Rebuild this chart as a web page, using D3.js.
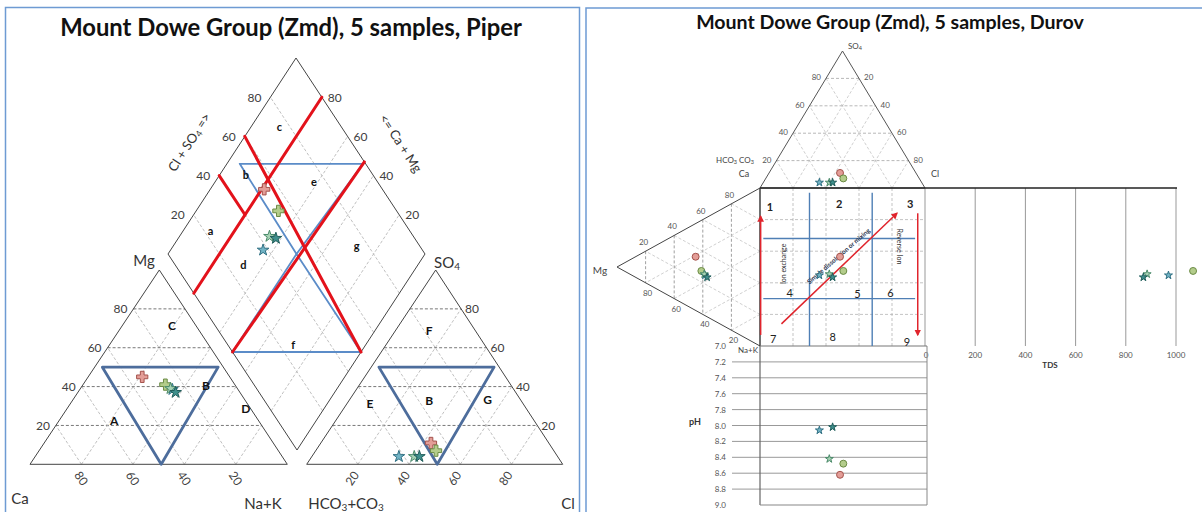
<!DOCTYPE html>
<html><head><meta charset="utf-8">
<script src="https://cdn.jsdelivr.net/npm/d3@7"></script>
<style>body{margin:0;background:#fff}svg{display:block}text{font-family:Lato,'Liberation Sans',sans-serif}</style>
</head><body>
<svg id="c" width="1202" height="512"></svg>
<script>
// ---------------- DATA ----------------
const sampleIds = ["S1","S2","S3","S4","S5"];
const caPct   = [34, 27, 25.5, 26, 25];
const mgPct   = [45, 41, 38.5, 39, 37];
const naPct   = [21, 32, 36, 35, 38];
const hco3Pct = [46, 46, 62, 56, 54];
const so4Pct  = [11, 7, 4, 4, 4];
const clPct   = [43, 47, 34, 40, 42];
const tdsVals = [1160, 1068, 970, 885, 870];
const phVals  = [8.62, 8.48, 8.06, 8.42, 8.02];
const gridTicks = [20, 40, 60, 80];
const tdsTicks = [0, 200, 400, 600, 800, 1000];
const phTicks = [7.0, 7.2, 7.4, 7.6, 7.8, 8.0, 8.2, 8.4, 8.6, 8.8, 9.0];
// Piper region boundaries (ternary %)
const cationBlue = [[3,50],[48,50],[51,0]];            // [Na, Mg]
const anionBlue  = [[3,50],[48,50],[51,0]];            // [Cl, SO4]
const diamondBlueTop = [[95,51],[47,99],[50,50]];      // [Ca+Mg, Cl+SO4]
const diamondBlueBot = [[50,50],[50,0],[0,50]];
const redLines = [[[80,0],[80,100]],[[50,0],[47,100]],[[100,60],[0,50]],[[100,40],[80,40]]];
const diamondRegions = [["a",89.5,22.7],["b",90,50.8],["c",89.2,76.1],["d",67.9,26.5],["e",61.6,75.3],["f",28.3,25.6],["g",28.6,75.5]];
const cationRegions = [["A",21.5,22.3],["B",47.9,40.8],["C",19.4,71.2],["D",69.6,28.5]]; // [Na,Mg]
const anionRegions  = [["E",8.9,31.4],["F",13,69.1],["B",31.4,32.7],["G",54,33.1]];     // [Cl,SO4]
// Durov fields (% of square)
const durovBlueX = [30, 68];
const durovBlueY = [32, 70];
const durovFields = [["1",6,12],["2",48,10],["3",91,10],["4",18,66],["5",59,67],["6",79,66],["7",8,95],["8",44,94],["9",89,97]];
const durovArrows = [[[0.4,93],[0.4,18]],[[13,86],[83,16]],[[95.6,16],[95.6,93]]];

const fills   = ["#e39d97","#b3cc8b","#72b4c6","#a6d2b4","#3f8f8c"];
const strokes = ["#a4524c","#6b8b45","#2f6f82","#4b8a6a","#1f5c5a"];
const piperShape = [d3.symbolCross,d3.symbolCross,d3.symbolStar,d3.symbolStar,d3.symbolStar];
const durovShape = [d3.symbolCircle,d3.symbolCircle,d3.symbolStar,d3.symbolStar,d3.symbolStar];

// ---------------- HELPERS ----------------
const svg = d3.select("#c");
svg.append("rect").attr("width",1202).attr("height",512).attr("fill","#fff");
const pct = d3.scaleLinear().domain([0,100]).range([0,1]);
const sub = (p,q)=>[p[0]-q[0],p[1]-q[1]];
function affine(o,u,v){return (a,b)=>[o[0]+pct(a)*u[0]+pct(b)*v[0], o[1]+pct(a)*u[1]+pct(b)*v[1]];}
function seg(g,p,q,col,w,dash){const l=g.append("line").attr("x1",p[0]).attr("y1",p[1]).attr("x2",q[0]).attr("y2",q[1]).attr("stroke",col).attr("stroke-width",w);if(dash)l.attr("stroke-dasharray",dash);return l;}
function txt(g,x,y,s,size,opts={}){const t=g.append("text").attr("x",x).attr("y",y).attr("font-size",size).attr("fill",opts.fill||"#333").attr("text-anchor",opts.anchor||"middle").attr("dominant-baseline","central");if(opts.weight)t.attr("font-weight",opts.weight);if(opts.rot!==undefined)t.attr("transform",`rotate(${opts.rot},${x},${y})`);t.text(s);return t;}
function poly(g,pts,col,w){g.append("path").attr("d",d3.line()(pts)+"Z").attr("fill","none").attr("stroke",col).attr("stroke-width",w).attr("stroke-linejoin","round");}
function triGrid(g,f,hc,dc){gridTicks.forEach(k=>{seg(g,f(0,k),f(100-k,k),hc,0.8,"3,2");seg(g,f(k,0),f(k,100-k),dc,0.8,"3,2");seg(g,f(100-k,0),f(0,100-k),dc,0.8,"3,2");});}
function mark(g,p,shape,size,i){g.append("path").attr("d",d3.symbol().type(shape).size(size)()).attr("transform",`translate(${p[0]},${p[1]})`).attr("fill",fills[i]).attr("stroke",strokes[i]).attr("stroke-width",1).attr("stroke-linejoin","round");}
function fitText(t,w){const l=t.node().getComputedTextLength();t.attr("font-size",parseFloat(t.attr("font-size"))*w/l);}

// panel borders
svg.append("rect").attr("x",5.5).attr("y",7.5).attr("width",574).attr("height",520).attr("fill","none").attr("stroke","#6e9bd3").attr("stroke-width",1.5);
svg.append("rect").attr("x",586).attr("y",8).attr("width",640).attr("height",520).attr("fill","none").attr("stroke","#6e9bd3").attr("stroke-width",1.5);

// ---------------- PIPER ----------------
const P = svg.append("g");
fitText(txt(P,291,26,"Mount Dowe Group (Zmd), 5 samples, Piper",22,{fill:"#111",weight:"bold"}),462);

const C_L=[30,464.3], C_R=[287.3,464.3], C_T=[159.3,270];
const A_L=[306.7,464.3], A_R=[562.7,464.3], A_T=[435.7,270];
const D_B=[297,450], D_L=[168,254], D_R=[425,254];
const cat = affine(C_L, sub(C_R,C_L), sub(C_T,C_L));   // (Na, Mg)
const an  = affine(A_L, sub(A_R,A_L), sub(A_T,A_L));   // (Cl, SO4)
const dia = affine(D_B, sub(D_L,D_B), sub(D_R,D_B));   // (Ca+Mg, Cl+SO4)

triGrid(P,cat,"#555","#b0b0b0");
triGrid(P,an,"#555","#b0b0b0");
gridTicks.forEach(k=>{seg(P,dia(k,0),dia(k,100),"#b0b0b0",0.8,"3,2");seg(P,dia(0,k),dia(100,k),"#b0b0b0",0.8,"3,2");});
poly(P,[cat(0,0),cat(100,0),cat(0,100)],"#444",1);
poly(P,[an(0,0),an(100,0),an(0,100)],"#444",1);
poly(P,[dia(0,0),dia(100,0),dia(100,100),dia(0,100)],"#444",1);

// tick labels
gridTicks.forEach(k=>{
  let p=cat(0,k); txt(P,p[0]-6,p[1],k,12,{anchor:"end",fill:"#404040"});
  p=cat(k,0); txt(P,p[0],p[1]+14,100-k,12,{fill:"#404040",rot:56});
  p=an(100-k,k); txt(P,p[0]+4,p[1],k,12,{anchor:"start",fill:"#404040"});
  p=an(k,0); txt(P,p[0]-6,p[1]+14,k,12,{fill:"#404040",rot:-56});
  p=dia(100,k); txt(P,p[0]-9,p[1],k,12,{anchor:"end",fill:"#404040"});
  p=dia(k,100); txt(P,p[0]+6,p[1],k,12,{anchor:"start",fill:"#404040"});
});
// axis names
txt(P,144,260,"Mg",15,{fill:"#333"});
const so4t = txt(P,447,262,"SO",15,{fill:"#333"}); so4t.append("tspan").attr("font-size",10).attr("dy",4).text("4");
txt(P,20,498,"Ca",15,{fill:"#333"});
txt(P,263,503,"Na+K",15,{fill:"#333"});
const hc = txt(P,346,503,"HCO",15,{fill:"#333"}); hc.append("tspan").attr("font-size",10).attr("dy",4).text("3"); hc.append("tspan").attr("dy",-4).text("+CO"); hc.append("tspan").attr("font-size",10).attr("dy",4).text("3");
txt(P,568,503,"Cl",15,{fill:"#333"});
const lt = txt(P,189,142,"Cl + SO",13,{fill:"#333",rot:-57}); lt.append("tspan").attr("font-size",9).attr("dy",3).text("4"); lt.append("tspan").attr("dy",-3).text(" =>");
txt(P,401,143,"<= Ca + Mg",13,{fill:"#333",rot:57});

// region lines
poly(P,cationBlue.map(d=>cat(d[0],d[1])),"#4d6d9c",2.8);
poly(P,anionBlue.map(d=>an(d[0],d[1])),"#4d6d9c",2.8);
poly(P,diamondBlueTop.map(d=>dia(d[0],d[1])),"#5b8cc8",1.8);
poly(P,diamondBlueBot.map(d=>dia(d[0],d[1])),"#5b8cc8",1.8);
redLines.forEach(l=>seg(P,dia(l[0][0],l[0][1]),dia(l[1][0],l[1][1]),"#e3121b",3).attr("stroke-linecap","round"));
diamondRegions.forEach(r=>{const p=dia(r[1],r[2]);txt(P,p[0],p[1],r[0],11,{fill:"#111",weight:"bold"});});
cationRegions.forEach(r=>{const p=cat(r[1],r[2]);txt(P,p[0],p[1],r[0],12,{fill:"#111",weight:"bold"});});
anionRegions.forEach(r=>{const p=an(r[1],r[2]);txt(P,p[0],p[1],r[0],12,{fill:"#111",weight:"bold"});});

// samples
sampleIds.forEach((id,i)=>{
  const sz = piperShape[i]===d3.symbolStar?42:70;
  mark(P,cat(naPct[i],mgPct[i]),piperShape[i],sz,i);
  mark(P,an(clPct[i],so4Pct[i]),piperShape[i],sz,i);
  mark(P,dia(caPct[i]+mgPct[i],clPct[i]+so4Pct[i]),piperShape[i],sz,i);
});

// ---------------- DUROV ----------------
const D = svg.append("g");
fitText(txt(D,890,21,"Mount Dowe Group (Zmd), 5 samples, Durov",19,{fill:"#111",weight:"bold"}),388);

const SQ={x0:760,x1:925,y0:188,y1:346};
const dTop  = affine([SQ.x0,SQ.y0],[SQ.x1-SQ.x0,0],[842.5-SQ.x0,51-SQ.y0]);   // (Cl, SO4)
const dLeft = affine([SQ.x0,SQ.y0],[0,SQ.y1-SQ.y0],[617-SQ.x0,267-SQ.y0]);    // (Na, Mg)
const sqX = d3.scaleLinear().domain([0,100]).range([SQ.x0,SQ.x1]);
const sqY = d3.scaleLinear().domain([0,100]).range([SQ.y0,SQ.y1]);
const tdsX = d3.scaleLinear().domain([0,1000]).range([925,1176]);
const phY = d3.scaleLinear().domain([7,9]).range([346,505]);

// grids
gridTicks.forEach(k=>{
  seg(D,dTop(0,k),dTop(100-k,k),"#999",0.7,"3,2");
  seg(D,dTop(k,0),dTop(k,100-k),"#bbb",0.7,"3,2");
  seg(D,dTop(100-k,0),dTop(0,100-k),"#bbb",0.7,"3,2");
  seg(D,dLeft(0,k),dLeft(100-k,k),"#777",0.7,"3,2");
  seg(D,dLeft(k,0),dLeft(k,100-k),"#bbb",0.7,"3,2");
  seg(D,dLeft(100-k,0),dLeft(0,100-k),"#bbb",0.7,"3,2");
  seg(D,[sqX(k),SQ.y0],[sqX(k),SQ.y1],"#aaa",0.7,"3,2");
  seg(D,[SQ.x0,sqY(k)],[SQ.x1,sqY(k)],"#aaa",0.7,"3,2");
});
poly(D,[dTop(0,0),dTop(100,0),dTop(0,100)],"#555",1);
seg(D,dLeft(0,0),dLeft(0,100),"#444",1);
seg(D,dLeft(100,0),dLeft(0,100),"#444",1);

// TDS panel
tdsTicks.forEach(v=>{seg(D,[tdsX(v),SQ.y0],[tdsX(v),SQ.y1],"#999",1);txt(D,tdsX(v)+(v===0?1:0),355,v,8,{fill:"#555"});});
txt(D,1050,365,"TDS",8,{fill:"#333",weight:"bold"});
// pH panel
phTicks.forEach(v=>{if(v>7&&v<9)seg(D,[732,phY(v)],[927,phY(v)],"#999",1);txt(D,726,phY(v),v.toFixed(1),8,{anchor:"end",fill:"#555"});});
seg(D,[760,SQ.y1],[760,505],"#666",1.2);
seg(D,[760,505],[927,505],"#888",1.2);
seg(D,[927,SQ.y1],[927,505],"#888",1);
txt(D,695,421,"pH",9,{fill:"#333",weight:"bold"});

// square frame
seg(D,[SQ.x0,SQ.y0],[1177,SQ.y0],"#222",1.6);
seg(D,[SQ.x0,SQ.y0],[SQ.x0,SQ.y1],"#333",1.4);
seg(D,[SQ.x0,SQ.y1],[927,SQ.y1],"#777",1);

// blue field lines
durovBlueX.forEach(v=>seg(D,[sqX(v),sqY(3)],[sqX(v),sqY(100)],"#4f7fb5",1.4));
durovBlueY.forEach(v=>seg(D,[sqX(2),sqY(v)],[sqX(94),sqY(v)],"#4f7fb5",1.4));
durovFields.forEach((f,i)=>txt(D,sqX(f[1]),sqY(f[2]),f[0],11,{fill:"#222",weight:i<3?"bold":"normal"}));

// arrows
const defs=svg.append("defs");
defs.append("marker").attr("id","ah").attr("viewBox","0 0 10 10").attr("refX",8).attr("refY",5).attr("markerWidth",4.5).attr("markerHeight",4.5).attr("orient","auto").append("path").attr("d","M0,0L10,5L0,10z").attr("fill","#e0242c");
durovArrows.forEach(a=>seg(D,[sqX(a[0][0]),sqY(a[0][1])],[sqX(a[1][0]),sqY(a[1][1])],"#e0242c",1.5).attr("marker-end","url(#ah)"));
txt(D,sqX(14),sqY(48),"Ion exchange",7,{fill:"#333",rot:-90});
txt(D,sqX(47.5),sqY(43),"Simple dissolution or mixing",6.5,{fill:"#2a3450",weight:"bold",rot:-41});
txt(D,sqX(85),sqY(37),"Reverse Ion",7,{fill:"#333",rot:90});

// tick labels Durov
gridTicks.forEach(k=>{
  let p=dTop(0,k); txt(D,p[0]-5,p[1]-1,k,8,{anchor:"end",fill:"#555"});
  p=dTop(100-k,k); txt(D,p[0]+5,p[1]-1,100-k,8,{anchor:"start",fill:"#555"});
  p=dLeft(0,k); txt(D,p[0]-2,p[1]-9,100-k,8,{fill:"#555"});
  p=dLeft(100-k,k); txt(D,p[0]+2,p[1]+10,k,8,{fill:"#555"});
});
const dso=txt(D,855,46,"SO",8,{fill:"#444"}); dso.append("tspan").attr("font-size",5.5).attr("dy",2).text("4");
const dhc=txt(D,735,160,"HCO",8,{fill:"#444"}); dhc.append("tspan").attr("font-size",5.5).attr("dy",2).text("3"); dhc.append("tspan").attr("dy",-2).text(" CO"); dhc.append("tspan").attr("font-size",5.5).attr("dy",2).text("3");
txt(D,744,173,"Ca",9,{fill:"#444"});
txt(D,935,173,"Cl",9,{fill:"#444"});
txt(D,600,270,"Mg",10,{fill:"#444"});
txt(D,748,350,"Na+K",8,{fill:"#444"});

// samples Durov
sampleIds.forEach((id,i)=>{
  const sz = durovShape[i]===d3.symbolStar?20:38;
  const xs = sqX(clPct[i]+so4Pct[i]/2), ys = sqY(naPct[i]+mgPct[i]/2);
  mark(D,dTop(clPct[i],so4Pct[i]),durovShape[i],sz,i);
  mark(D,dLeft(naPct[i],mgPct[i]),durovShape[i],sz,i);
  mark(D,[xs,ys],durovShape[i],sz,i);
  mark(D,[tdsX(tdsVals[i]),ys],durovShape[i],sz,i);
  mark(D,[xs,phY(phVals[i])],durovShape[i],sz,i);
});
</script>
</body></html>
